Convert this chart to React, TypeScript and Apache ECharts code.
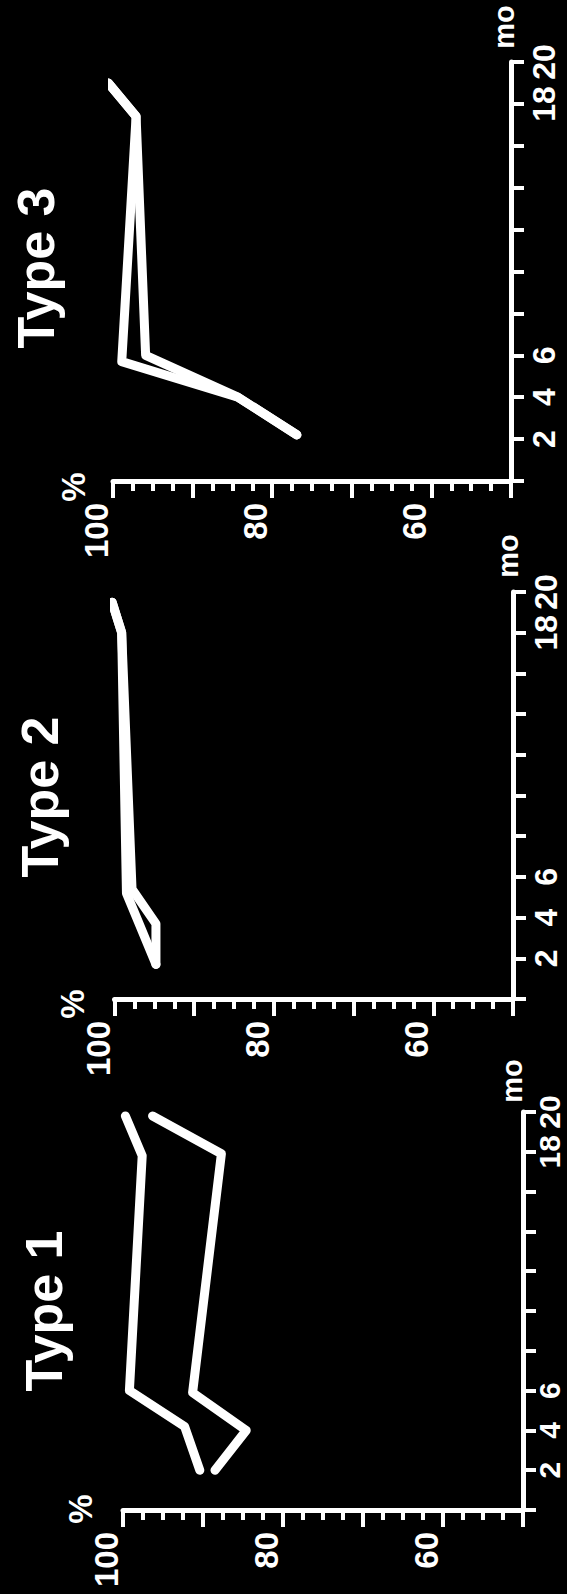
import React, { useEffect, useRef } from "react";
import * as echarts from "echarts";

// ---- data (percent survival vs. months) ----
const titles = ["Type 3", "Type 2", "Type 1"];
const pctTickLabels = [100, 80, 60];
const monthTickLabels = [2, 4, 6, 18, 20];

const type3MonthsA = [2.2, 4, 5.7, 17.4, 19];
const type3PctA = [76.9, 84.3, 98.9, 97.1, 100.6];
const type3MonthsB = [2.2, 4, 6, 17.4, 19];
const type3PctB = [76.9, 84.3, 95.9, 97.1, 100.6];

const type2MonthsA = [1.7, 3.5, 5.2, 18, 19.5];
const type2PctA = [94.8, 96.7, 98.5, 99.1, 100.3];
const type2MonthsB = [1.7, 3.7, 5.4, 18, 19.5];
const type2PctB = [94.8, 94.8, 97.8, 99.1, 100.3];

const type1MonthsA = [2, 4.2, 6, 17.8, 19.8];
const type1PctA = [90.4, 92.3, 99.2, 97.6, 99.7];
const type1MonthsB = [2, 4, 5.9, 17.9, 19.8];
const type1PctB = [88.5, 84.6, 91.3, 87.7, 96.3];

const panelSeries = [
  [[type3PctA, type3MonthsA], [type3PctB, type3MonthsB]],
  [[type2PctA, type2MonthsA], [type2PctB, type2MonthsB]],
  [[type1PctA, type1MonthsA], [type1PctB, type1MonthsB]],
];

// ---- layout ----
const grids = [
  { left: 113, top: 62, width: 398, height: 419 },
  { left: 114.5, top: 592, width: 398.5, height: 407 },
  { left: 123, top: 1112, width: 400, height: 398 },
];
const monthLabelMargin = [17, 17, 11];
const monthLabelSize = [32, 32, 30];
const titlePos = [
  [36, 268],
  [40, 797],
  [44, 1311],
];
const pctPos = [
  [73, 487],
  [72, 1004],
  [80, 1509],
];
const moPos = [
  [504, 27],
  [508, 556],
  [512, 1081],
];

const FONT = "'Liberation Sans', Arial, sans-serif";
const WHITE = "#ffffff";

export default function App() {
  const ref = useRef<HTMLDivElement>(null);

  useEffect(() => {
    if (!ref.current) return;
    const chart = echarts.init(ref.current, undefined, { renderer: "svg" });

    const xAxis = grids.map((_, i) => ({
      type: "value",
      gridIndex: i,
      min: 50,
      max: 100,
      interval: 10,
      inverse: true,
      position: "bottom",
      axisLine: { show: true, onZero: false, lineStyle: { color: WHITE, width: 5 } },
      axisTick: { show: true, length: 17, lineStyle: { color: WHITE, width: 4 } },
      minorTick: { show: true, splitNumber: 4, length: 10, lineStyle: { color: WHITE, width: 4 } },
      splitLine: { show: false },
      minorSplitLine: { show: false },
      axisLabel: {
        show: true,
        rotate: 90,
        margin: 22,
        color: WHITE,
        fontSize: 33,
        fontWeight: "bold",
        fontFamily: FONT,
        verticalAlign: "bottom",
        formatter: (v: number) => (pctTickLabels.includes(v) ? String(v) : ""),
      },
    }));

    const yAxis = grids.map((_, i) => ({
      type: "value",
      gridIndex: i,
      min: 0,
      max: 20,
      interval: 2,
      position: "right",
      axisLine: { show: true, onZero: false, lineStyle: { color: WHITE, width: 5 } },
      axisTick: { show: true, length: 13, lineStyle: { color: WHITE, width: 4 } },
      splitLine: { show: false },
      axisLabel: {
        show: true,
        rotate: 90,
        margin: monthLabelMargin[i],
        color: WHITE,
        fontSize: monthLabelSize[i],
        fontWeight: "bold",
        fontFamily: FONT,
        formatter: (v: number) => (monthTickLabels.includes(v) ? String(v) : ""),
      },
    }));

    const series: any[] = [];
    panelSeries.forEach((lines, i) => {
      lines.forEach(([pcts, months]) => {
        series.push({
          type: "line",
          xAxisIndex: i,
          yAxisIndex: i,
          data: pcts.map((p, k) => [p, months[k]]),
          symbol: "none",
          clip: false,
          lineStyle: { color: WHITE, width: 9, cap: "round", join: "round" },
        });
      });
    });

    const graphics: any[] = [];
    titles.forEach((t, i) => {
      graphics.push({
        type: "text",
        x: titlePos[i][0],
        y: titlePos[i][1],
        rotation: Math.PI / 2,
        style: {
          text: t,
          fill: WHITE,
          font: `bold 52px ${FONT}`,
          align: "center",
          verticalAlign: "middle",
        },
      });
      graphics.push({
        type: "text",
        x: pctPos[i][0],
        y: pctPos[i][1],
        rotation: Math.PI / 2,
        style: {
          text: "%",
          fill: WHITE,
          font: `bold 33px ${FONT}`,
          align: "center",
          verticalAlign: "middle",
        },
      });
      graphics.push({
        type: "text",
        x: moPos[i][0],
        y: moPos[i][1],
        rotation: Math.PI / 2,
        style: {
          text: "mo",
          fill: WHITE,
          font: `bold 29px ${FONT}`,
          align: "center",
          verticalAlign: "middle",
        },
      });
    });

    chart.setOption({
      animation: false,
      backgroundColor: "#000000",
      textStyle: { fontFamily: FONT },
      grid: grids.map((g) => ({ ...g, containLabel: false })),
      xAxis,
      yAxis,
      series,
      graphic: graphics,
    });

    return () => chart.dispose();
  }, []);

  return (
    <div
      ref={ref}
      style={{ position: "absolute", left: 0, top: 0, width: 567, height: 1594, background: "#000" }}
    />
  );
}
